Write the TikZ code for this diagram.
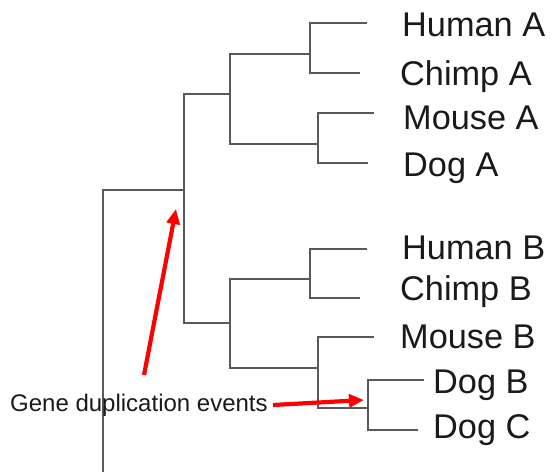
\documentclass[tikz,border=0pt]{standalone}
\usepackage{fontspec}
\setmainfont{Liberation Sans}
\usetikzlibrary{arrows.meta}
\definecolor{branchgray}{HTML}{595959}
\definecolor{arrowred}{HTML}{FF0000}
\definecolor{inkblack}{HTML}{1A1A1A}
\begin{document}
\begin{tikzpicture}[x=1pt,y=-1pt,
  branch/.style={draw=branchgray, line width=1.2pt},
  taxon/.style={anchor=base west, inner sep=0pt, text=inkblack,
    font=\fontsize{34.3}{40}\selectfont},
  caption/.style={anchor=base west, inner sep=0pt, text=inkblack,
    font=\fontsize{24}{28}\selectfont},
  pointer/.style={draw=arrowred, line width=4.2pt,
    -{Triangle[length=15pt,width=13pt]}}
]
\useasboundingbox (0,0) rectangle (554,472);

% leaf tips
\coordinate (hA) at (367,23);
\coordinate (cA) at (360,73);
\coordinate (mA) at (374,113);
\coordinate (dA) at (368,163);
\coordinate (hB) at (367,249);
\coordinate (cB) at (360,298);
\coordinate (mB) at (374,337);
\coordinate (dB) at (424,380);
\coordinate (dC) at (418,430);

% internal nodes (point where the parent branch attaches)
\coordinate (nHCA) at (310,54);
\coordinate (nMDA) at (318,144);
\coordinate (nA)   at (230,94);
\coordinate (nHCB) at (310,279);
\coordinate (nDBC) at (368,408);
\coordinate (nMDB) at (318,368);
\coordinate (nB)   at (230,323);
\coordinate (nDup) at (184,190);
\coordinate (root) at (103,190);
\coordinate (rootEnd) at (103,472);

% tree branches
\draw[branch] (hA) -| (nHCA) |- (cA);
\draw[branch] (mA) -| (nMDA) |- (dA);
\draw[branch] (nHCA) -| (nA) |- (nMDA);
\draw[branch] (hB) -| (nHCB) |- (cB);
\draw[branch] (dB) -| (nDBC) |- (dC);
\draw[branch] (mB) -| (nMDB) |- (nDBC);
\draw[branch] (nHCB) -| (nB) |- (nMDB);
\draw[branch] (nA) -| (nDup) |- (nB);
\draw[branch] (nDup) -- (root) -- (rootEnd);

% taxon labels
\node[taxon] (tHA) at (402,36)  {Human A};
\node[taxon] (tCA) at (400,85)  {Chimp A};
\node[taxon] (tMA) at (403,129) {Mouse A};
\node[taxon] (tDA) at (403,176) {Dog A};
\node[taxon] (tHB) at (402,259) {Human B};
\node[taxon] (tCB) at (400,300) {Chimp B};
\node[taxon] (tMB) at (400,348) {Mouse B};
\node[taxon] (tDB) at (433,393) {Dog B};
\node[taxon] (tDC) at (433,438) {Dog C};

% duplication annotation
\node[caption] (gde) at (10,411) {Gene duplication events};
\coordinate (s1) at (144,375);
\coordinate (t1) at (176,209);
\coordinate (s2) at (273,405);
\coordinate (t2) at (364,400);
\draw[pointer] (s1) -- (t1);
\draw[pointer] (s2) -- (t2);
\end{tikzpicture}
\end{document}
